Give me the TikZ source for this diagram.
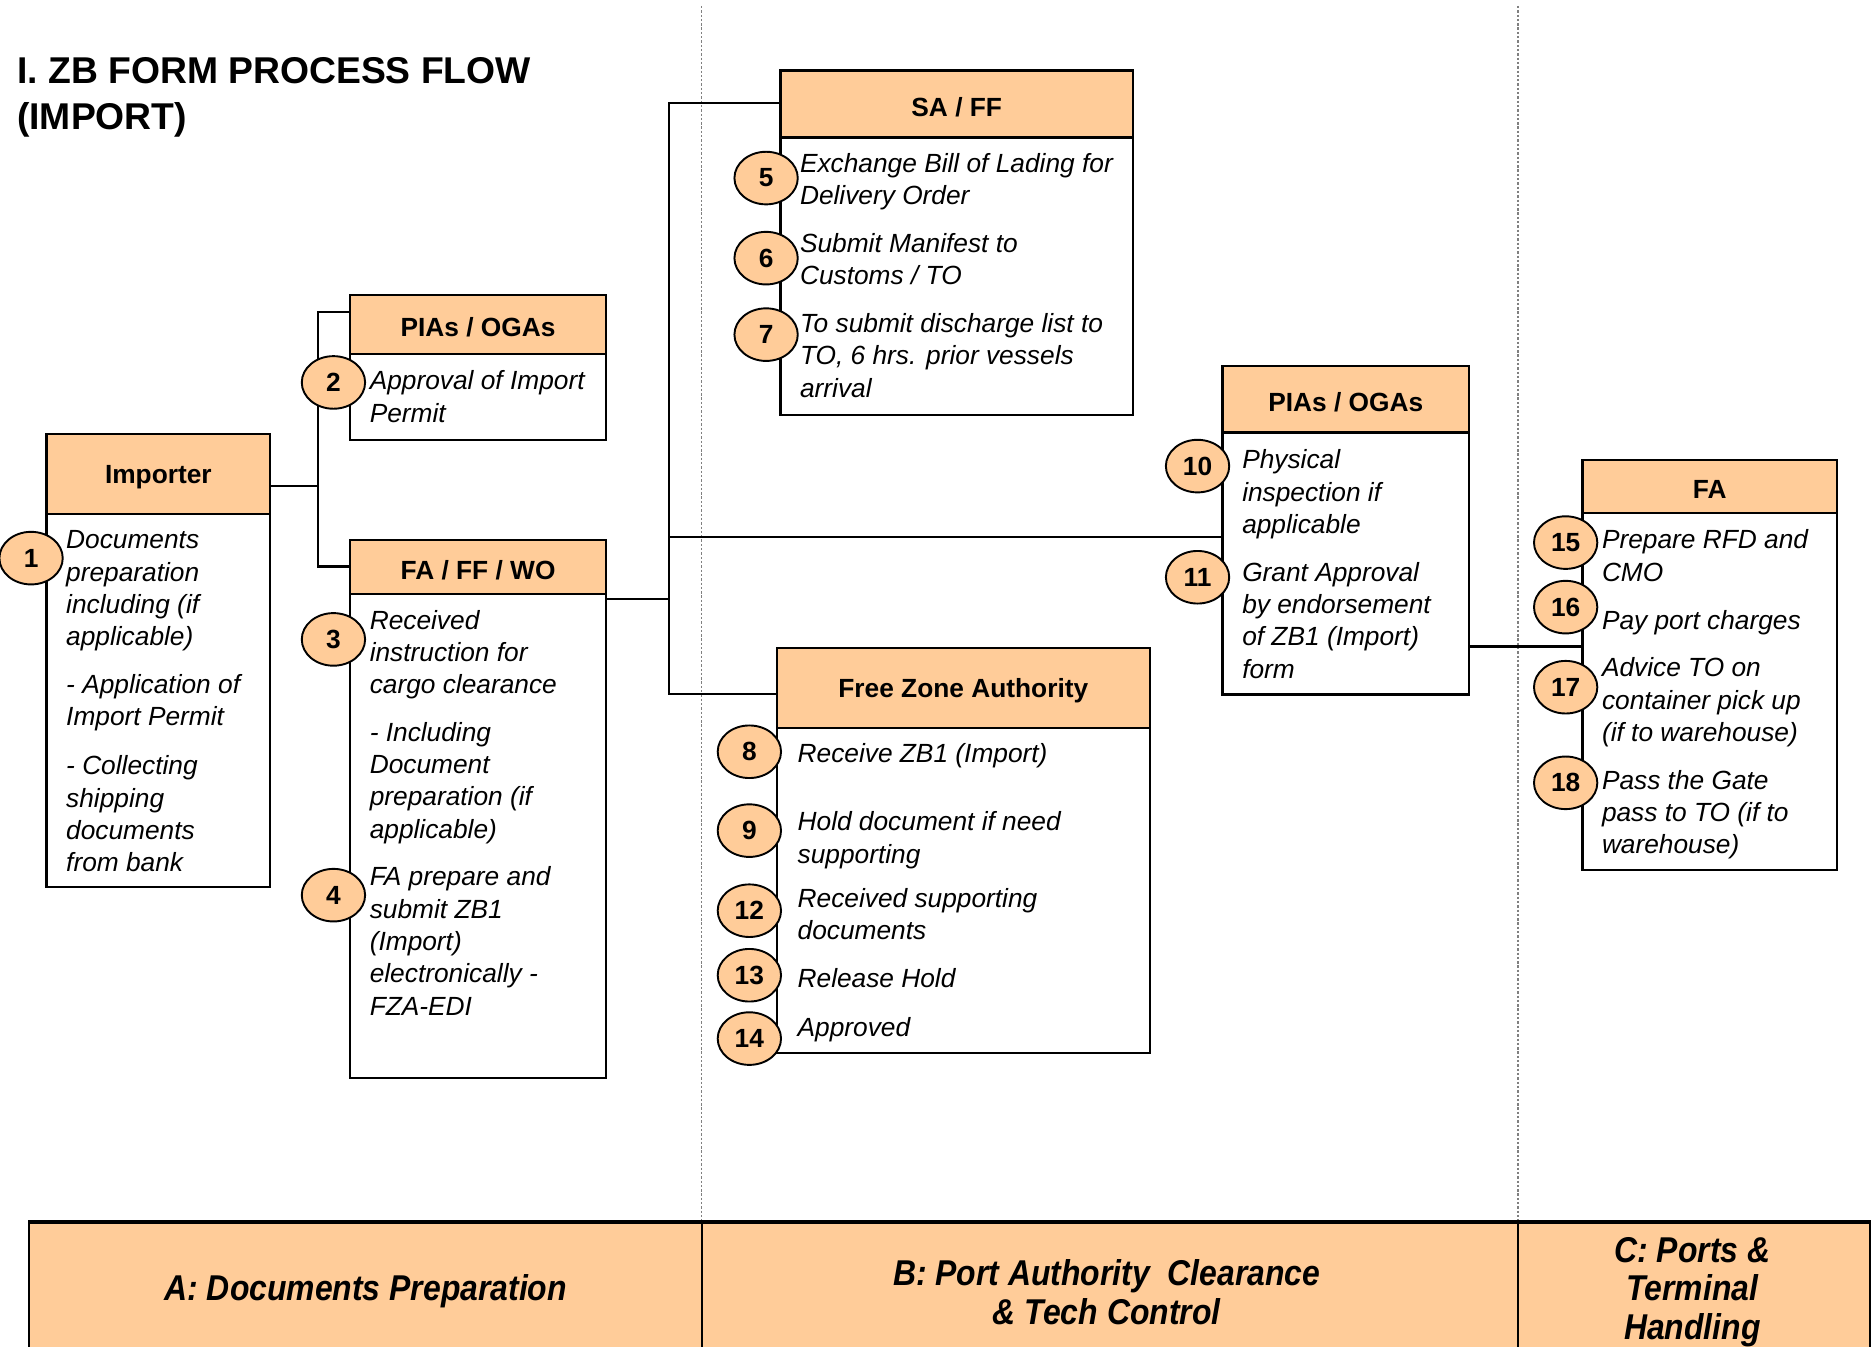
\documentclass[tikz,border=0pt]{standalone}
\usepackage{fontspec}
\setmainfont{Liberation Sans}
\newfontfamily\bandfont{Liberation Sans}[FakeStretch=0.89]
\usetikzlibrary{shapes.geometric,fit,calc}
\definecolor{peach}{HTML}{FFCC99}
\tikzset{
  hdr/.style={draw=black, line width=1pt, fill=peach, inner sep=0pt},
  hdrlabel/.style={inner sep=0pt, anchor=center, yshift=-1.2pt, font=\fontsize{11}{13.5}\selectfont\bfseries},
  bodybox/.style={draw=black, line width=1pt, fill=white, inner sep=0pt},
  stepnum/.style={ellipse, draw=black, line width=0.8pt, fill=peach, minimum width=26.5pt, minimum height=22pt, inner sep=0pt, font=\fontsize{11}{13}\selectfont\bfseries},
  steptext/.style={anchor=north west, inner sep=0pt, align=left, font=\fontsize{11}{13.5}\selectfont\itshape},
  conn/.style={draw=black, line width=0.9pt},
  lane/.style={draw=gray, line width=0.7pt, dash pattern=on 1pt off 0.8pt},
  bandcell/.style={draw=black, line width=0.8pt, fill=peach, inner sep=0pt},
  bandtext/.style={align=center, inner sep=0pt, yshift=-1.5pt, font=\bandfont\fontsize{15}{16.2}\selectfont\bfseries\itshape},
  titletext/.style={anchor=north west, inner sep=0pt, align=left, font=\fontsize{15.6}{19.2}\selectfont\bfseries}
}
\begin{document}
\begin{tikzpicture}[x=0.5pt,y=-0.5pt]
\useasboundingbox (0,0) rectangle (1568,1127);
\clip (0,0) rectangle (1568,1127);

% swim-lane separators
\coordinate (laneAt) at (587,5);
\coordinate (laneAb) at (587,1023);
\coordinate (laneBt) at (1270,5);
\coordinate (laneBb) at (1270,1023);
\draw[lane] (laneAt) -- (laneAb);
\draw[lane] (laneBt) -- (laneBb);

% title
\node[titletext] (title) at (14,43) {\strut I. ZB FORM PROCESS FLOW\\(IMPORT)};

% ---------- boxes ----------
% Importer
\node[bodybox, fit={(39,430)(226,742)}] (impb) {};
\node[hdr, fit={(39,363)(226,430)}] (imph) {};
\node[hdrlabel] (imphl) at (imph.center) {Importer};
% PIAs / OGAs (left)
\node[bodybox, fit={(293,296)(507,368)}] (plb) {};
\node[hdr, fit={(293,247)(507,296)}] (plh) {};
\node[hdrlabel] (plhl) at (plh.center) {PIAs / OGAs};
% FA / FF / WO
\node[bodybox, fit={(293,497)(507,902)}] (ffb) {};
\node[hdr, fit={(293,452)(507,497)}] (ffh) {};
\node[hdrlabel] (ffhl) at (ffh.center) {FA / FF / WO};
% SA / FF
\node[bodybox, fit={(653,115)(948,347)}] (sab) {};
\node[hdr, fit={(653,59)(948,115)}] (sah) {};
\node[hdrlabel] (sahl) at (sah.center) {SA / FF};
% Free Zone Authority
\node[bodybox, fit={(650,609)(962,881)}] (fzb) {};
\node[hdr, fit={(650,542)(962,609)}] (fzh) {};
\node[hdrlabel] (fzhl) at (fzh.center) {Free Zone Authority};
% PIAs / OGAs (right)
\node[bodybox, fit={(1023,362)(1229,581)}] (prb) {};
\node[hdr, fit={(1023,306)(1229,362)}] (prh) {};
\node[hdrlabel] (prhl) at (prh.center) {PIAs / OGAs};
% FA
\node[bodybox, fit={(1324,429)(1537,728)}] (fab) {};
\node[hdr, fit={(1324,385)(1537,429)}] (fah) {};
\node[hdrlabel] (fahl) at (fah.center) {FA};

% ---------- connectors ----------
\coordinate (jImp) at (266,407);
\coordinate (jImpT) at (266,261);
\coordinate (jImpB) at (266,474);
\draw[conn] (imph.east |- jImp) -- (jImp);
\draw[conn] (plh.west |- jImpT) -- (jImpT) -- (jImpB) -- (ffh.west |- jImpB);

\coordinate (jFF) at (560,501);
\coordinate (jFFT) at (560,86);
\coordinate (jFFM) at (560,449);
\coordinate (jFFB) at (560,581);
\draw[conn] (ffb.east |- jFF) -- (jFF);
\draw[conn] (sah.west |- jFFT) -- (jFFT) -- (jFFB) -- (fzh.west |- jFFB);
\draw[conn] (jFFM) -- (prb.west |- jFFM);

\coordinate (jPR) at (1276,541);
\draw[conn] (prb.east |- jPR) -- (fab.west |- jPR);

% ---------- step texts ----------
\node[steptext] (t1) at (55,440) {\strut Documents\\preparation\\including (if\\applicable)\\[6.5pt]- Application of\\Import Permit\\[7pt]- Collecting\\shipping\\documents\\from bank};
\node[steptext] (t2) at (309,307) {\strut Approval of Import\\Permit};
\node[steptext] (t3) at (309,507) {\strut Received\\instruction for\\cargo clearance\\[6.5pt]- Including\\Document\\preparation (if\\applicable)};
\node[steptext] (t4) at (309,722) {\strut FA prepare and\\submit ZB1\\(Import)\\electronically -\\FZA-EDI};
\node[steptext] (t5) at (669,125) {\strut Exchange Bill of Lading for\\Delivery Order};
\node[steptext] (t6) at (669,192) {\strut Submit Manifest to\\Customs / TO};
\node[steptext] (t7) at (669,259) {\strut To submit discharge list to\\TO, 6 hrs. prior vessels\\arrival};
\node[steptext] (t8) at (667,619) {\strut Receive ZB1 (Import)};
\node[steptext] (t9) at (667,676) {\strut Hold document if need\\supporting};
\node[steptext] (t12) at (667,740) {\strut Received supporting\\documents};
\node[steptext] (t13) at (667,807) {\strut Release Hold};
\node[steptext] (t14) at (667,848) {\strut Approved};
\node[steptext] (t10) at (1039,373) {\strut Physical\\inspection if\\applicable};
\node[steptext] (t11) at (1039,467) {\strut Grant Approval\\by endorsement\\of ZB1 (Import)\\form};
\node[steptext] (t15) at (1340,440) {\strut Prepare RFD and\\CMO};
\node[steptext] (t16) at (1340,507) {\strut Pay port charges};
\node[steptext] (t17) at (1340,547) {\strut Advice TO on\\container pick up\\(if to warehouse)};
\node[steptext] (t18) at (1340,641) {\strut Pass the Gate\\pass to TO (if to\\warehouse)};

% ---------- step numbers ----------
\node[stepnum] (n1) at (26,467) {1};
\node[stepnum] (n2) at (279,320) {2};
\node[stepnum] (n3) at (279,535) {3};
\node[stepnum] (n4) at (279,749) {4};
\node[stepnum] (n5) at (641,149) {5};
\node[stepnum] (n6) at (641,216) {6};
\node[stepnum] (n7) at (641,280) {7};
\node[stepnum] (n8) at (627,629) {8};
\node[stepnum] (n9) at (627,695) {9};
\node[stepnum] (n12) at (627,762) {12};
\node[stepnum] (n13) at (627,816) {13};
\node[stepnum] (n14) at (627,869) {14};
\node[stepnum] (n10) at (1002,390) {10};
\node[stepnum] (n11) at (1002,483) {11};
\node[stepnum] (n15) at (1310,454) {15};
\node[stepnum] (n16) at (1310,508) {16};
\node[stepnum] (n17) at (1310,575) {17};
\node[stepnum] (n18) at (1310,655) {18};

% ---------- bottom band ----------
\node[bandcell, fit={(24.5,1023)(587,1145)}] (cellA) {};
\node[bandcell, fit={(587,1023)(1270,1145)}] (cellB) {};
\node[bandcell, fit={(1270,1023)(1564.6,1145)}] (cellC) {};
\draw[line width=1.4pt] (cellA.north west) -- (cellC.north east);
\node[bandtext] (labA) at (306,1077) {A: Documents Preparation};
\node[bandtext] (labB) at (926,1078) {B: Port Authority~ Clearance\\ \& Tech Control};
\node[bandtext] (labC) at (1416,1078) {C: Ports \&\\Terminal\\Handling};
\end{tikzpicture}
\end{document}
